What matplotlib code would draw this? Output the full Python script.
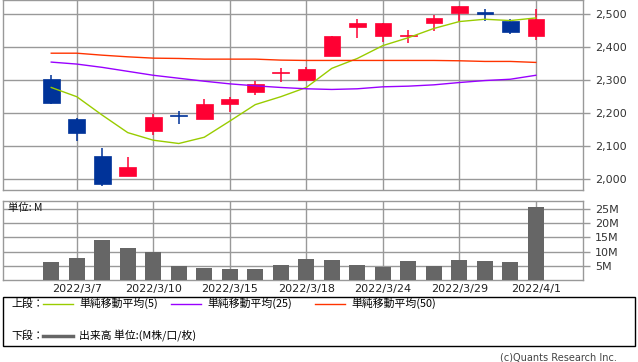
import matplotlib
matplotlib.use("Agg")
import matplotlib.pyplot as plt
from matplotlib.patches import Rectangle
from matplotlib.lines import Line2D

JP = ["Noto Sans CJK JP", "DejaVu Sans"]

dates = ["2022/3/4", "2022/3/7", "2022/3/8", "2022/3/9", "2022/3/10", "2022/3/11",
         "2022/3/14", "2022/3/15", "2022/3/16", "2022/3/17", "2022/3/18", "2022/3/22",
         "2022/3/23", "2022/3/24", "2022/3/25", "2022/3/28", "2022/3/29", "2022/3/30",
         "2022/3/31", "2022/4/1"]
opens = [2304, 2182, 2070, 2010, 2147, 2193, 2183, 2229, 2265, 2321, 2301, 2375,
         2463, 2435, 2435, 2475, 2503, 2507, 2480, 2435]
highs = [2316, 2184, 2094, 2067, 2197, 2206, 2243, 2248, 2299, 2337, 2340, 2434,
         2486, 2474, 2452, 2498, 2525, 2515, 2486, 2516]
lows = [2228, 2116, 1980, 2010, 2135, 2168, 2183, 2203, 2255, 2296, 2301, 2375,
        2429, 2415, 2414, 2450, 2481, 2481, 2441, 2423]
closes = [2232, 2141, 1986, 2036, 2188, 2190, 2228, 2243, 2288, 2325, 2334, 2434,
          2474, 2474, 2438, 2489, 2525, 2502, 2447, 2486]
ma5 = [2278, 2250, 2194, 2141, 2118, 2108, 2127, 2176, 2226, 2250, 2278, 2336,
       2366, 2405, 2429, 2457, 2478, 2485, 2481, 2489]
ma25 = [2355, 2349, 2339, 2327, 2315, 2306, 2297, 2289, 2283, 2278, 2274, 2272,
        2274, 2280, 2282, 2286, 2293, 2299, 2303, 2315]
ma50 = [2382, 2382, 2376, 2371, 2367, 2366, 2364, 2364, 2364, 2361, 2360, 2360,
        2360, 2360, 2360, 2360, 2359, 2357, 2357, 2354]
volume_m = [6.4, 7.8, 14.1, 11.3, 9.9, 4.9, 4.3, 4.0, 4.0, 5.3, 7.4, 7.1,
            5.3, 4.7, 6.7, 5.0, 7.1, 6.7, 6.4, 25.6]

price_ticks = [2000, 2100, 2200, 2300, 2400, 2500]
vol_ticks = [5, 10, 15, 20, 25]

UP = "#ff0033"
DOWN = "#003399"
GRID = "#999999"

W, H = 638, 362
fig = plt.figure(figsize=(W / 100, H / 100), dpi=100)


def fax(x0, y0, x1, y1):
    # pixel box (top-left origin) -> figure axes
    return fig.add_axes([x0 / W, 1 - y1 / H, (x1 - x0) / W, (y1 - y0) / H])


xs = list(range(len(dates)))
tick_idx = list(range(1, len(dates), 3))
xlim = (-1.88, 20.83)

ax = fax(3.3, 0.3, 582.5, 190.3)
vax = fax(3.3, 201.3, 582.5, 280.3)

for a in (ax, vax):
    a.set_xlim(*xlim)
    for s in a.spines.values():
        s.set_color(GRID)
        s.set_linewidth(1)
    a.yaxis.tick_right()
    a.tick_params(axis="y", direction="out", length=5, width=1, color=GRID,
                  labelsize=8, pad=4, labelcolor="#333333")
    a.tick_params(axis="x", length=0)
    a.set_xticks(tick_idx)
    a.grid(True, color=GRID, linewidth=1)
    a.set_axisbelow(True)

# price panel
ax.set_ylim(1966, 2542.5)
ax.set_yticks(price_ticks)
ax.set_yticklabels([f"{v:,}" for v in price_ticks])
ax.set_xticklabels([])

for i in xs:
    o, c = opens[i], closes[i]
    col = UP if c >= o else DOWN
    ax.vlines(i, lows[i], highs[i], color=col, linewidth=1.1, zorder=3)
    lo, hi = min(o, c), max(o, c)
    ax.bar(i, max(hi - lo, 2), bottom=lo, width=0.65, color=col,
           edgecolor=col, linewidth=0.5, zorder=4)

ax.plot(xs, ma5, color="#99cc00", linewidth=1, zorder=5)
ax.plot(xs, ma25, color="#9900ff", linewidth=1, zorder=5)
ax.plot(xs, ma50, color="#ff3300", linewidth=1, zorder=5)

# volume panel
vax.set_ylim(0, 27.6)
vax.set_yticks(vol_ticks)
vax.set_yticklabels([f"{v}M" for v in vol_ticks])
vax.set_xticklabels([dates[i] for i in tick_idx], fontsize=8, color="#222222")
vax.tick_params(axis="x", pad=3)
vax.bar(xs, volume_m, width=0.63, color="#666666", zorder=3)
vax.text(0.008, 0.91, "単位: M", transform=vax.transAxes, fontsize=7.5,
         family=JP, va="center", ha="left", color="#111111")

# legend box
fig.add_artist(Rectangle((3.3 / W, 1 - 345.7 / H), (635 - 3.3) / W, 49 / H,
                         transform=fig.transFigure, fill=False,
                         edgecolor="black", linewidth=1))


def fy(y):
    return 1 - y / H


row1, row2 = 303.5, 335.7
fig.text(11.5 / W, fy(row1), "上段：", family=JP, fontsize=7.8, va="center")
fig.text(11.5 / W, fy(row2), "下段：", family=JP, fontsize=7.8, va="center")
entries = [(43, "#99cc00", "単純移動平均(5)"),
           (171, "#9900ff", "単純移動平均(25)"),
           (315, "#ff3300", "単純移動平均(50)")]
for x0, col, lab in entries:
    fig.add_artist(Line2D([x0 / W, (x0 + 30) / W], [fy(row1), fy(row1)],
                          color=col, linewidth=1, transform=fig.transFigure))
    fig.text((x0 + 36) / W, fy(row1), lab, family=JP, fontsize=7.8, va="center")
fig.add_artist(Line2D([43 / W, 73 / W], [fy(row2), fy(row2)], color="#666666",
                      linewidth=2.5, transform=fig.transFigure))
fig.text(79 / W, fy(row2), "出来高 単位:(M株/口/枚)", family=JP, fontsize=7.8,
         va="center")

fig.text(617 / W, fy(357), "(c)Quants Research Inc.", fontsize=7,
         color="#444444", ha="right", va="center")

fig.savefig("out.png", dpi=100)
